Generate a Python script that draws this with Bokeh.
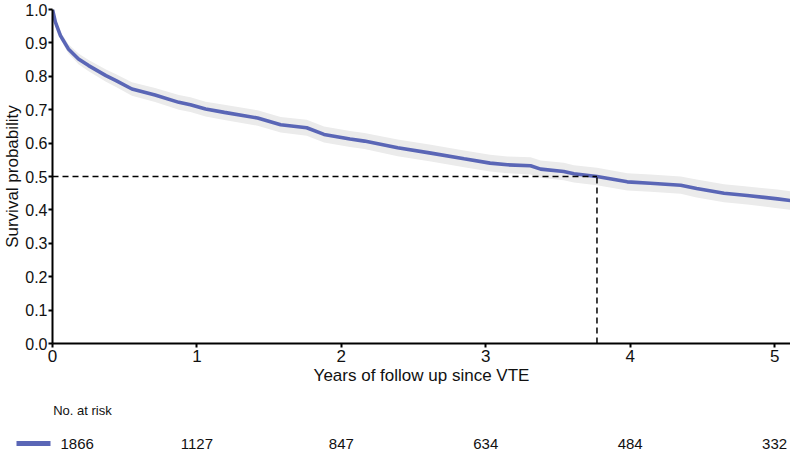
from bokeh.plotting import figure
from bokeh.layouts import column, row
from bokeh.models import Range1d, FixedTicker, CustomJSTickFormatter
from bokeh.core.properties import value
from bokeh.embed import file_html
from bokeh.resources import INLINE

# Kaplan-Meier estimate of survival after VTE (years of follow up)
times = [0, 0.02, 0.055, 0.11, 0.18, 0.25, 0.37, 0.44, 0.55, 0.71, 0.875, 0.955,
         1.06, 1.19, 1.42, 1.58, 1.76, 1.88, 2.06, 2.16, 2.39, 2.62, 2.85, 3.03,
         3.15, 3.31, 3.38, 3.54, 3.61, 3.77, 3.98, 4.14, 4.35, 4.46, 4.65, 4.81,
         5.02, 5.11]
surv = [1.0, 0.962, 0.922, 0.882, 0.852, 0.832, 0.802, 0.787, 0.762, 0.744, 0.722,
        0.715, 0.702, 0.692, 0.675, 0.655, 0.646, 0.626, 0.612, 0.606, 0.586, 0.570,
        0.553, 0.540, 0.535, 0.532, 0.522, 0.515, 0.508, 0.500, 0.484, 0.480, 0.474,
        0.464, 0.450, 0.443, 0.433, 0.428]
ci_lo = [1.0, 0.953, 0.910, 0.868, 0.836, 0.815, 0.784, 0.768, 0.742, 0.723, 0.700,
         0.693, 0.680, 0.669, 0.652, 0.632, 0.622, 0.602, 0.588, 0.582, 0.561, 0.545,
         0.528, 0.515, 0.510, 0.506, 0.496, 0.489, 0.482, 0.474, 0.458, 0.454, 0.448,
         0.437, 0.423, 0.416, 0.405, 0.400]
ci_hi = [1.0, 0.971, 0.934, 0.896, 0.868, 0.849, 0.820, 0.806, 0.782, 0.765, 0.744,
         0.737, 0.724, 0.715, 0.698, 0.678, 0.670, 0.650, 0.636, 0.630, 0.611, 0.595,
         0.578, 0.565, 0.560, 0.558, 0.548, 0.541, 0.534, 0.526, 0.510, 0.506, 0.500,
         0.491, 0.477, 0.470, 0.461, 0.456]

median_time = 3.77
median_surv = 0.5

x_ticks = [0, 1, 2, 3, 4, 5]
y_ticks = [0.0, 0.1, 0.2, 0.3, 0.4, 0.5, 0.6, 0.7, 0.8, 0.9, 1.0]

risk_years = [0, 1, 2, 3, 4, 5]
at_risk = [1866, 1127, 847, 634, 484, 332]

FONT = "Liberation Sans"
LINE_COLOR = "#5a66b6"
BAND_COLOR = "#ebebeb"
TEXT_COLOR = "#111111"

X_END = 5.11
LEFT = 52

p = figure(width=790, height=390, output_backend="svg", toolbar_location=None,
           x_range=Range1d(0, X_END), y_range=Range1d(0, 1),
           min_border_left=LEFT, min_border_right=0, min_border_top=9,
           min_border_bottom=47)
p.outline_line_color = None
p.xgrid.visible = False
p.ygrid.visible = False

# confidence band and survival curve
p.varea(x=times, y1=ci_lo, y2=ci_hi, color=BAND_COLOR)
p.line(x=times, y=surv, line_color=LINE_COLOR, line_width=3.6)

# median survival guides
p.line(x=[0, median_time], y=[median_surv, median_surv], line_color="black",
       line_width=1.5, line_dash="6 4")
p.line(x=[median_time, median_time], y=[0, median_surv], line_color="black",
       line_width=1.5, line_dash="6 4")

for ax in (p.xaxis[0], p.yaxis[0]):
    ax.axis_line_width = 2
    ax.axis_line_color = "black"
    ax.major_tick_line_width = 2
    ax.major_tick_line_color = "black"
    ax.major_tick_out = 4
    ax.major_tick_in = 0
    ax.minor_tick_line_color = None
    ax.major_label_text_font = FONT
    ax.major_label_text_font_size = "17px"
    ax.major_label_text_color = TEXT_COLOR
    ax.axis_label_text_font = FONT
    ax.axis_label_text_font_size = "17px"
    ax.axis_label_text_font_style = "normal"
    ax.axis_label_text_color = TEXT_COLOR

p.yaxis.major_label_text_font_size = "16px"
p.xaxis.ticker = FixedTicker(ticks=x_ticks)
p.yaxis.ticker = FixedTicker(ticks=y_ticks)
p.yaxis.formatter = CustomJSTickFormatter(code="return tick.toFixed(1);")
p.xaxis.axis_label = "Years of follow up since VTE"
p.yaxis.axis_label = "Survival probability"
p.xaxis.major_label_standoff = 2
p.yaxis.major_label_standoff = 1
p.xaxis.axis_label_standoff = 1
p.yaxis.axis_label_standoff = 0

# legend swatch to the left of the number-at-risk row
s = figure(width=LEFT, height=60, output_backend="svg", toolbar_location=None,
           x_range=Range1d(0, LEFT), y_range=Range1d(60, 0), min_border=0,
           x_axis_location=None, y_axis_location=None)
s.outline_line_color = None
s.xgrid.visible = False
s.ygrid.visible = False
s.line(x=[16, 50], y=[53, 53], line_color=LINE_COLOR, line_width=5)

# number-at-risk table on the same year scale as the plot
r = figure(width=790 - LEFT, height=60, output_backend="svg", toolbar_location=None,
           x_range=p.x_range, y_range=Range1d(60, 0), min_border=0,
           x_axis_location=None, y_axis_location=None)
r.outline_line_color = None
r.xgrid.visible = False
r.ygrid.visible = False
r.text(x=[0.005], y=[20], text=["No. at risk"], text_font=value(FONT),
       text_font_size="13px", text_color=TEXT_COLOR, text_align="left",
       text_baseline="middle")
r.text(x=[risk_years[0]], y=[53], text=[str(at_risk[0])], x_offset=8,
       text_font=value(FONT), text_font_size="15px", text_color=TEXT_COLOR,
       text_align="left", text_baseline="middle")
r.text(x=risk_years[1:], y=[53] * 5, text=[str(v) for v in at_risk[1:]],
       text_font=value(FONT), text_font_size="15px", text_color=TEXT_COLOR,
       text_align="center", text_baseline="middle")

layout = column(p, row(s, r, spacing=0), spacing=0)
open("out.html", "w").write(file_html(layout, INLINE))
